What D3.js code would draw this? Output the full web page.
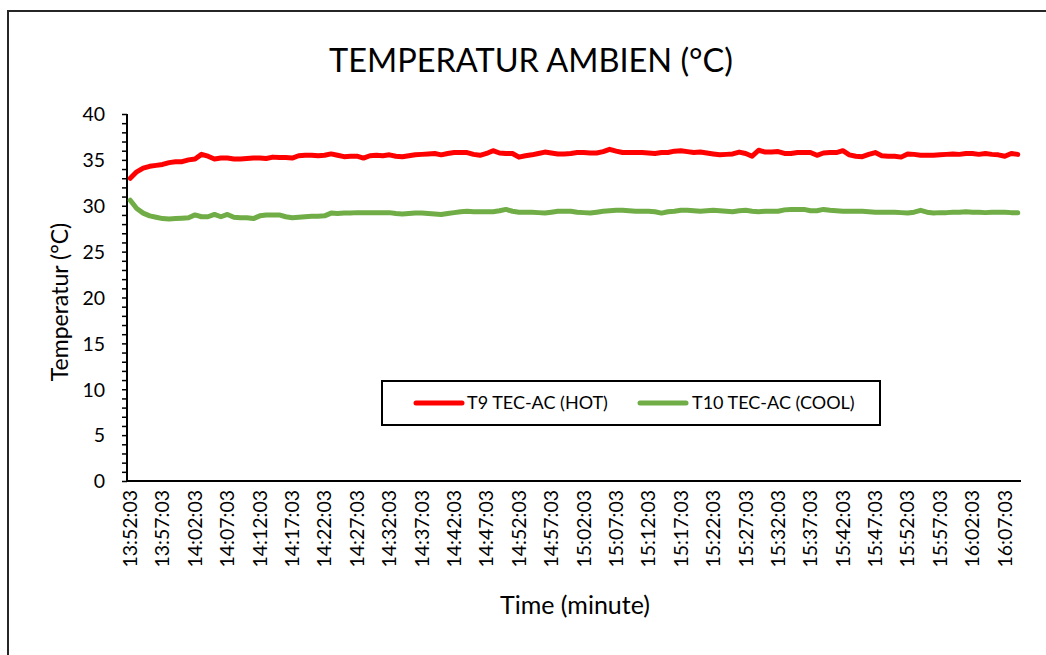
<!DOCTYPE html>
<html>
<head>
<meta charset="utf-8">
<script src="https://cdn.jsdelivr.net/npm/d3@7"></script>
<style>
  html, body { margin: 0; padding: 0; background: #fff; }
  svg { display: block; font-family: Lato, "Open Sans", sans-serif; }
</style>
</head>
<body>
<svg id="chart" width="1046" height="655"></svg>
<script>
// ---- data ----
const startTime = "13:52:03";
const tickLabels = ["13:52:03","13:57:03","14:02:03","14:07:03","14:12:03","14:17:03","14:22:03","14:27:03",
  "14:32:03","14:37:03","14:42:03","14:47:03","14:52:03","14:57:03","15:02:03","15:07:03","15:12:03",
  "15:17:03","15:22:03","15:27:03","15:32:03","15:37:03","15:42:03","15:47:03","15:52:03","15:57:03",
  "16:02:03","16:07:03"];
const hotValues = [
  33.0,33.7,34.1,34.3,34.4,34.5,34.7,34.8,34.8,35.0,
  35.1,35.6,35.4,35.1,35.2,35.2,35.1,35.1,35.15,35.2,
  35.2,35.15,35.3,35.25,35.25,35.2,35.45,35.5,35.5,35.45,
  35.5,35.65,35.5,35.35,35.4,35.4,35.2,35.45,35.5,35.45,
  35.55,35.4,35.35,35.45,35.55,35.6,35.65,35.7,35.55,35.7,
  35.8,35.8,35.8,35.6,35.5,35.7,36.0,35.75,35.7,35.7,
  35.3,35.45,35.55,35.7,35.85,35.75,35.65,35.65,35.7,35.8,
  35.8,35.75,35.75,35.9,36.15,35.95,35.8,35.8,35.8,35.8,
  35.75,35.7,35.8,35.8,35.95,36.0,35.9,35.8,35.85,35.75,
  35.65,35.55,35.6,35.65,35.85,35.7,35.4,36.05,35.85,35.85,
  35.9,35.7,35.7,35.8,35.8,35.8,35.5,35.75,35.8,35.8,
  36.0,35.55,35.4,35.35,35.6,35.8,35.45,35.4,35.4,35.3,
  35.65,35.6,35.5,35.5,35.5,35.55,35.6,35.65,35.6,35.7,
  35.7,35.6,35.7,35.6,35.55,35.4,35.7,35.6];
const coolValues = [
  30.6,29.7,29.2,28.9,28.75,28.6,28.55,28.6,28.65,28.7,
  29.0,28.8,28.8,29.05,28.8,29.05,28.75,28.7,28.7,28.6,
  28.9,29.0,29.0,29.0,28.8,28.7,28.75,28.8,28.85,28.85,
  28.9,29.2,29.15,29.2,29.2,29.25,29.25,29.25,29.25,29.25,
  29.25,29.15,29.1,29.15,29.2,29.2,29.15,29.1,29.05,29.15,
  29.25,29.35,29.4,29.35,29.35,29.35,29.35,29.45,29.6,29.4,
  29.3,29.3,29.3,29.25,29.2,29.3,29.4,29.4,29.4,29.3,
  29.25,29.2,29.3,29.4,29.45,29.5,29.5,29.45,29.4,29.4,
  29.4,29.35,29.2,29.35,29.4,29.5,29.5,29.45,29.4,29.45,
  29.5,29.45,29.4,29.35,29.45,29.5,29.4,29.35,29.4,29.4,
  29.4,29.55,29.6,29.6,29.6,29.45,29.45,29.6,29.5,29.45,
  29.4,29.4,29.4,29.4,29.35,29.3,29.3,29.3,29.3,29.25,
  29.2,29.3,29.5,29.3,29.2,29.25,29.25,29.3,29.3,29.35,
  29.3,29.3,29.25,29.3,29.3,29.3,29.25,29.25];
const seriesNames = ["T9 TEC-AC (HOT)", "T10 TEC-AC (COOL)"];
const seriesColors = ["#FF0000", "#70AD47"];
const yTicks = [0,5,10,15,20,25,30,35,40];
const titleText = "TEMPERATUR AMBIEN (°C)";
const yTitle = "Temperatur (°C)";
const xTitle = "Time (minute)";

// categories: one per minute from start
const fmt = d3.timeFormat("%H:%M:%S"), prs = d3.timeParse("%H:%M:%S");
const t0 = prs(startTime);
const categories = hotValues.map((_, i) => fmt(d3.timeMinute.offset(t0, i)));

// ---- layout ----
const svg = d3.select("#chart");
const L = 127, R = 1021, T = 114, B = 481;

// outer border
svg.append("rect").attr("x", 8).attr("y", 11).attr("width", 1060).attr("height", 670)
  .attr("fill", "none").attr("stroke", "#262626").attr("stroke-width", 2);

const x = d3.scaleBand().domain(categories).range([L, R]).padding(0);
const xc = c => x(c) + x.bandwidth() / 2;
const y = d3.scaleLinear().domain([0, 40]).range([B, T]);

// title
svg.append("text").attr("x", 531).attr("y", 72).attr("text-anchor", "middle")
  .attr("font-size", 32.5).attr("fill", "#000").text(titleText);

// y axis
const yAxis = d3.axisLeft(y).tickValues(d3.range(0, 41, 1)).tickSize(5).tickFormat(d => yTicks.includes(d) ? d : "");
const gy = svg.append("g").attr("transform", `translate(${L},0)`).call(yAxis);
gy.select(".domain").attr("stroke", "#000").attr("stroke-width", 2).attr("d", `M0,${B}V${T}`);
gy.selectAll(".tick line").attr("stroke", "#000").attr("stroke-width", 1.5);
gy.selectAll(".tick text").attr("font-size", 19.5).attr("fill", "#000").attr("font-family", "Lato").attr("dy", "0.35em").attr("x", -22);

// x axis
const xAxis = d3.axisBottom(x).tickValues(tickLabels).tickSize(0).tickPadding(0);
const gx = svg.append("g").attr("transform", `translate(0,${B})`).call(xAxis);
gx.select(".domain").attr("stroke", "#000").attr("stroke-width", 2).attr("d", `M${L},0H${R}`);
gx.selectAll(".tick text").attr("font-size", 19.5).attr("fill", "#000").attr("font-family", "Lato")
  .attr("transform", "rotate(-90)").attr("text-anchor", "end").attr("x", -9).attr("y", 0).attr("dy", "0.35em");

// axis titles
svg.append("text").attr("transform", "translate(68,302) rotate(-90)").attr("text-anchor", "middle")
  .attr("font-size", 23).attr("fill", "#000").text(yTitle);
svg.append("text").attr("x", 575).attr("y", 614).attr("text-anchor", "middle")
  .attr("font-size", 25).attr("fill", "#000").text(xTitle);

// lines
const line = d3.line().x((d, i) => xc(categories[i])).y(d => y(d));
[hotValues, coolValues].forEach((vals, k) => {
  svg.append("path").datum(vals).attr("d", line).attr("fill", "none")
    .attr("stroke", seriesColors[k]).attr("stroke-width", 5)
    .attr("stroke-linejoin", "round").attr("stroke-linecap", "round");
});

// legend
const lg = svg.append("g");
lg.append("rect").attr("x", 382).attr("y", 381).attr("width", 498).attr("height", 44)
  .attr("fill", "#fff").attr("stroke", "#000").attr("stroke-width", 2);
const legendItems = [{x1: 416, x2: 462, tx: 467}, {x1: 640, x2: 686, tx: 692}];
legendItems.forEach((it, k) => {
  lg.append("line").attr("x1", it.x1).attr("x2", it.x2).attr("y1", 403).attr("y2", 403)
    .attr("stroke", seriesColors[k]).attr("stroke-width", 5).attr("stroke-linecap", "round");
  lg.append("text").attr("x", it.tx).attr("y", 403).attr("dy", "0.35em")
    .attr("font-size", 18).attr("fill", "#000").text(seriesNames[k]);
});
</script>
</body>
</html>
